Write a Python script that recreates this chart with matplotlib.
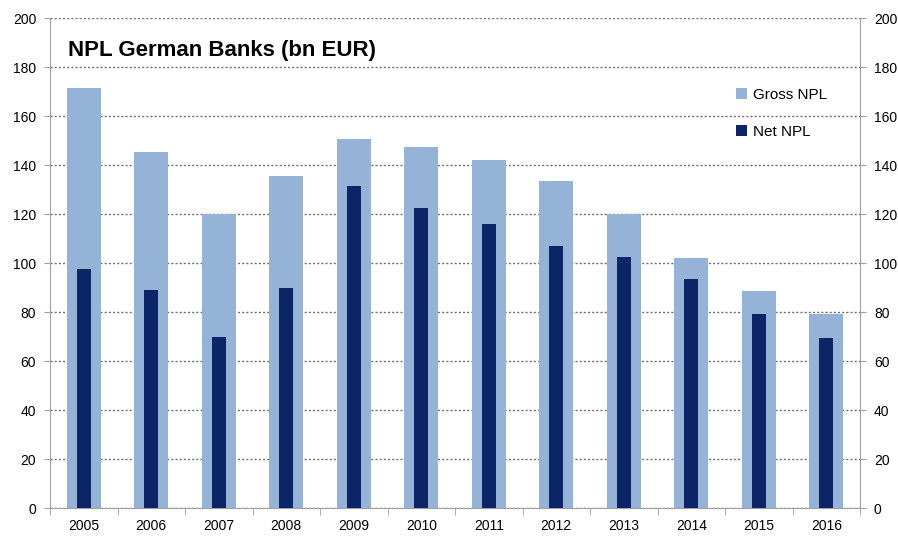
import numpy as np
import matplotlib.pyplot as plt

years = ['2005', '2006', '2007', '2008', '2009', '2010',
         '2011', '2012', '2013', '2014', '2015', '2016']
gross_npl = [171.5, 145.5, 120, 135.5, 150.5, 147.5, 142, 133.5, 120, 102, 88.5, 79]
net_npl = [97.5, 89, 70, 90, 131.5, 122.5, 116, 107, 102.5, 93.5, 79, 69.5]

plt.rcParams['font.family'] = ['Liberation Sans', 'DejaVu Sans']

fig = plt.figure(figsize=(8.98, 5.36), dpi=100)
ax = fig.add_axes([0.0557, 0.0522, 0.902, 0.9142])

x = np.arange(len(years))
ax.bar(x, gross_npl, width=0.5, color='#95B3D7', label='Gross NPL', zorder=2)
ax.bar(x, net_npl, width=0.21, color='#0C2566', label='Net NPL', zorder=3)

ax.set_xlim(-0.5, len(years) - 0.5)
ax.set_ylim(0, 200)
ax.set_yticks(range(0, 201, 20))
ax.grid(axis='y', linestyle=(0, (1.5, 1.5)), color='#707070', linewidth=1, zorder=1)
ax.set_axisbelow(True)

# category labels centered, tick marks on category boundaries
ax.set_xticks(x)
ax.set_xticklabels(years, fontsize=10)
ax.tick_params(axis='x', length=0, pad=8)
ax.set_xticks(np.arange(-0.5, len(years)), minor=True)
ax.tick_params(axis='x', which='minor', length=5, color='#A0A0A0', direction='out')
ax.tick_params(axis='y', labelsize=10, length=4, color='#A0A0A0', pad=6)

for side in ['top', 'right']:
    ax.spines[side].set_visible(False)
for side in ['left', 'bottom']:
    ax.spines[side].set_color('#A0A0A0')

ax2 = ax.twinx()
ax2.set_ylim(0, 200)
ax2.set_yticks(range(0, 201, 20))
ax2.tick_params(axis='y', labelsize=10, length=4, color='#A0A0A0', pad=6)
for side in ['top', 'left', 'bottom']:
    ax2.spines[side].set_visible(False)
ax2.spines['right'].set_color('#A0A0A0')

ax.text(0.022, 0.955, 'NPL German Banks (bn EUR)', transform=ax.transAxes,
        fontsize=16, fontweight='bold', va='top', ha='left')

ax.legend(loc='upper left', bbox_to_anchor=(0.83, 0.885), frameon=False,
          fontsize=11, handlelength=0.7, handleheight=0.7, labelspacing=1.5,
          handletextpad=0.4)

fig.savefig('out.png', dpi=100)
